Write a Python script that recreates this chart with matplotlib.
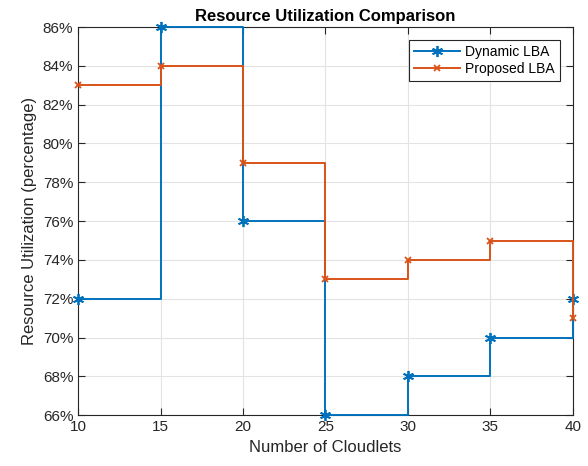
import numpy as np
import matplotlib.pyplot as plt
from matplotlib.ticker import FuncFormatter

# Cloudlet counts and utilization (%) for each load balancer
cloudlets = [10, 15, 20, 25, 30, 35, 40]
dynamic_lba = [72, 86, 76, 66, 68, 70, 72]
proposed_lba = [83, 84, 79, 73, 74, 75, 71]

blue = '#0072BD'
orange = '#D95319'

plt.rcParams['font.family'] = ['Liberation Sans', 'DejaVu Sans']

fig = plt.figure(figsize=(5.88, 4.66), dpi=100)
ax = fig.add_axes([0.133, 0.109, 0.841, 0.833])


def draw_stairs(x, y, color, marker, label, ms):
    # MATLAB-style stairs: hold each value until the next x, then step
    ax.plot(x, y, drawstyle='steps-post', color=color, lw=1.4,
            marker=marker, ms=ms, mew=1.3, label=label, clip_on=False,
            zorder=3)


draw_stairs(cloudlets, dynamic_lba, blue, (6, 2, 0), 'Dynamic LBA', 8)
draw_stairs(cloudlets, proposed_lba, orange, 'x', 'Proposed LBA', 5)

ax.set_xlim(10, 40)
ax.set_ylim(66, 86)
ax.set_xticks(np.arange(10, 41, 5))
ax.set_yticks(np.arange(66, 87, 2))
ax.yaxis.set_major_formatter(FuncFormatter(lambda v, p: f'{v:.0f}%'))

ax.grid(True, color='#e3e3e3', lw=0.8)
ax.set_axisbelow(True)
ax.tick_params(direction='in', length=5, color='#262626',
               labelsize=11, labelcolor='#262626', top=True, right=True,
               labeltop=False, labelright=False)
for s in ax.spines.values():
    s.set_color('#262626')
    s.set_linewidth(0.8)

ax.set_xlabel('Number of Cloudlets', fontsize=12, color='#262626')
ax.set_ylabel('Resource Utilization (percentage)', fontsize=12, color='#262626')
ax.set_title('Resource Utilization Comparison', fontsize=12,
             fontweight='bold', pad=4)

leg = ax.legend(loc='upper right', bbox_to_anchor=(0.974, 0.966),
                borderaxespad=0, fontsize=10, fancybox=False, framealpha=1,
                edgecolor='#262626', borderpad=0.35, labelspacing=0.2,
                handlelength=3.3, handletextpad=0.4)
leg.get_frame().set_linewidth(0.8)

fig.savefig('out.png', dpi=100)
